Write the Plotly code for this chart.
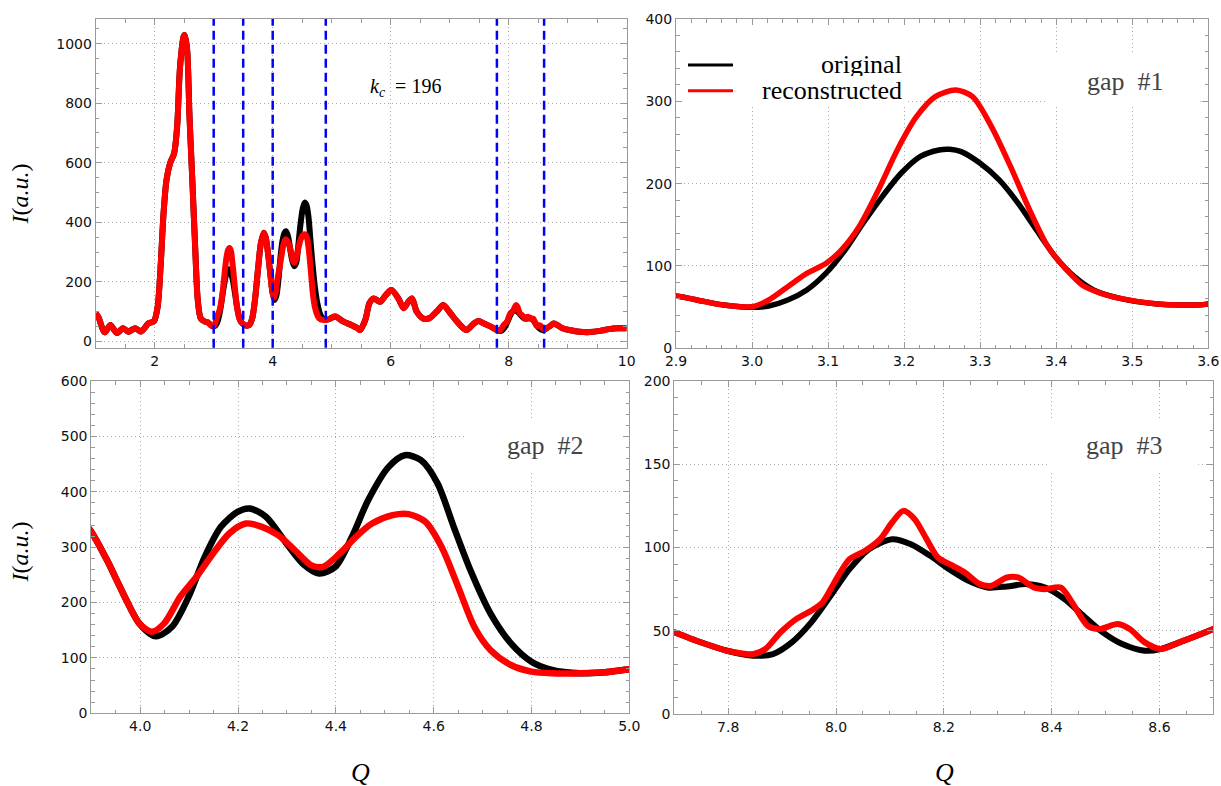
import plotly.graph_objects as go
from plotly.subplots import make_subplots

# ---------------------------------------------------------------------------
# Scattering intensity I(Q): points where original and reconstructed coincide
# ---------------------------------------------------------------------------
q_shared = [1.00, 1.05, 1.10, 1.15, 1.20, 1.25, 1.30, 1.36, 1.41, 1.46, 1.51,
            1.55, 1.61, 1.67, 1.72, 1.77, 1.83, 1.89, 1.95, 1.99, 2.05, 2.10,
            2.15, 2.20, 2.26, 2.33, 2.38, 2.43, 2.49, 2.51, 2.55, 2.59, 2.64,
            2.69, 2.73, 2.78, 2.85, 2.90, 2.938, 2.963,
            3.484, 3.533, 3.563, 3.60, 3.65, 3.70, 3.75, 3.80, 3.85, 3.88,
            3.90, 3.932, 3.965,
            4.90, 4.95, 5.00, 5.06, 5.20, 5.33, 5.44, 5.48, 5.57, 5.64, 5.71,
            5.82, 5.92, 6.01, 6.13, 6.22, 6.30, 6.36, 6.44, 6.55, 6.65, 6.78,
            6.89, 6.99, 7.10, 7.23, 7.29, 7.41, 7.49, 7.58, 7.70, 7.741,
            8.637, 8.70, 8.76, 8.82, 8.90, 9.05, 9.20, 9.38, 9.55, 9.70,
            9.85, 10.00]
i_shared = [94, 80, 50, 30, 42, 55, 42, 28, 35, 44, 38,
            32, 38, 44, 38, 33, 45, 60, 64, 68, 116, 251,
            430, 542, 598, 632, 721, 923, 1024, 1029, 979, 755, 531,
            296, 139, 77, 66, 63.6, 56.7, 52.6,
            60.7, 53.8, 52.6, 54, 75, 140, 240, 330, 365, 350,
            327.7, 276.6, 216.5,
            72.2, 74, 79.4, 83, 66, 55, 44, 38, 72, 128, 144,
            133, 156, 172, 144, 111, 133, 144, 100, 77, 77, 100,
            122, 100, 72, 44, 38, 60, 68, 60, 49, 44,
            43, 51, 60, 55, 45, 37, 32, 31, 35, 41,
            44, 44]

# gap #1 window
q_gap1_orig = [3.000, 3.022, 3.047, 3.072, 3.097, 3.122, 3.146, 3.171, 3.196,
               3.221, 3.246, 3.260, 3.275, 3.300, 3.325, 3.350, 3.374, 3.399,
               3.424, 3.449]
i_gap1_orig = [49.8, 51.4, 58.7, 70.9, 91, 119, 152, 184, 212.6,
               232.8, 240.9, 241.7, 238.9, 224.7, 204.5, 176, 143.7, 111,
               87, 70.9]
q_gap1_rec = [3.000, 3.022, 3.047, 3.072, 3.097, 3.117, 3.141, 3.166, 3.191,
              3.216, 3.241, 3.268, 3.290, 3.315, 3.340, 3.365, 3.389, 3.414,
              3.434, 3.459]
i_gap1_rec = [50.5, 58.7, 74.9, 91, 103, 119, 148, 192, 241,
              281, 305.7, 313.8, 305.7, 269, 220.6, 168, 123.5, 95,
              77, 66.8]

# gap #2 window
q_gap2_orig = [3.998, 4.032, 4.065, 4.099, 4.132, 4.165, 4.199, 4.224, 4.257,
               4.299, 4.332, 4.366, 4.399, 4.433, 4.466, 4.508, 4.541, 4.574,
               4.608, 4.641, 4.675, 4.716, 4.758, 4.800, 4.842]
i_gap2_orig = [162.4, 139, 156.3, 210.5, 282.6, 336.7, 363.8, 369.8, 354.8,
               306.7, 270.6, 252.6, 264.6, 318.7, 384.8, 445, 466, 457,
               415, 336.7, 258.6, 180.4, 126.3, 93.2, 78.2]
q_gap2_rec = [3.998, 4.024, 4.049, 4.082, 4.115, 4.149, 4.182, 4.216, 4.249,
              4.282, 4.316, 4.349, 4.374, 4.408, 4.441, 4.474, 4.516, 4.549,
              4.583, 4.616, 4.650, 4.683, 4.716, 4.758, 4.800, 4.842]
i_gap2_rec = [162.4, 147.3, 162.4, 210.5, 246.5, 288.6, 324.7, 342.7, 336.7,
              321.7, 294.6, 267.6, 264.6, 288.6, 318.7, 342.7, 357.8, 359.6,
              345.8, 300.7, 228.5, 156.3, 114.3, 87.2, 75.2, 72.2]

# gap #3 window
q_gap3_orig = [7.798, 7.847, 7.883, 7.918, 7.954, 7.990, 8.025, 8.061, 8.104,
               8.139, 8.175, 8.210, 8.246, 8.281, 8.317, 8.353, 8.388, 8.424,
               8.459, 8.495, 8.531, 8.573, 8.602]
i_gap3_orig = [38, 35, 36, 43, 55, 71, 87, 99, 105,
               102, 95, 87, 80, 76, 76.6, 78, 76, 69,
               59, 49, 42, 38, 39]
q_gap3_rec = [7.798, 7.847, 7.869, 7.897, 7.926, 7.954, 7.975, 7.997, 8.025,
              8.054, 8.082, 8.104, 8.125, 8.146, 8.168, 8.189, 8.217, 8.239,
              8.267, 8.288, 8.317, 8.338, 8.367, 8.388, 8.417, 8.438, 8.467,
              8.488, 8.523, 8.545, 8.573, 8.602]
i_gap3_rec = [38, 36, 39, 49, 57, 62, 67, 79, 93,
              98, 105, 115, 122, 117, 105, 94, 89, 85,
              78, 77, 82, 82, 76, 75, 76, 67, 53,
              51, 54, 51, 43, 39]

# boundaries of the removed windows
cut_q = [3.0, 3.5, 4.0, 4.9, 7.8, 8.6]
k_c = 196


def merge(parts):
    pts = sorted(p for qs, iv in parts for p in zip(qs, iv))
    return [p[0] for p in pts], [p[1] for p in pts]


q_orig, i_orig = merge([(q_shared, i_shared), (q_gap1_orig, i_gap1_orig),
                        (q_gap2_orig, i_gap2_orig), (q_gap3_orig, i_gap3_orig)])
q_rec, i_rec = merge([(q_shared, i_shared), (q_gap1_rec, i_gap1_rec),
                      (q_gap2_rec, i_gap2_rec), (q_gap3_rec, i_gap3_rec)])

W, H = 1221, 786
FRAME = "#9a9a9a"
SERIF = "Liberation Serif"
SANS = "DejaVu Sans"


def px(x):
    return x / W


def py(y):
    return 1 - y / H


fig = make_subplots(rows=2, cols=2)

# panel frames in pixels: (left, right, top, bottom)
panels = {
    (1, 1): (95.7, 626.7, 19.0, 347.7),
    (1, 2): (676.0, 1208.3, 19.0, 348.3),
    (2, 1): (91.3, 629.3, 381.0, 713.3),
    (2, 2): (674.3, 1213.3, 381.0, 714.0),
}

axes_cfg = {
    (1, 1): dict(xr=[1, 10], xt0=0, xd=2, xm=0.5, xf="d",
                 yr=[-21.5, 1083], yd=200, ym=50, lw=6),
    (1, 2): dict(xr=[2.9, 3.6], xt0=2.9, xd=0.1, xm=0.02, xf=".1f",
                 yr=[0, 400], yd=100, ym=20, lw=5.5),
    (2, 1): dict(xr=[3.9, 5.0], xt0=4.0, xd=0.2, xm=0.05, xf=".1f",
                 yr=[0, 600], yd=100, ym=20, lw=6.5),
    (2, 2): dict(xr=[7.7, 8.7], xt0=7.8, xd=0.2, xm=0.05, xf=".1f",
                 yr=[0, 200], yd=50, ym=10, lw=6),
}

common = dict(showline=True, linecolor=FRAME, linewidth=1, mirror="allticks",
              ticks="inside", ticklen=6, tickwidth=1, tickcolor=FRAME,
              showgrid=True, gridcolor="#a8a8a8", griddash="1px,3px",
              gridwidth=1, zeroline=False, automargin=False,
              tickfont=dict(family=SANS, size=14, color="#111111"))

for (r, c), cfg in axes_cfg.items():
    l, rr, t, b = panels[(r, c)]
    fig.update_xaxes(domain=[px(l), px(rr)], range=cfg["xr"], tick0=cfg["xt0"],
                     dtick=cfg["xd"], tickformat=cfg["xf"],
                     minor=dict(ticks="inside", ticklen=3.5, tickcolor=FRAME,
                                dtick=cfg["xm"], tick0=cfg["xt0"], showgrid=False),
                     row=r, col=c, **common)
    fig.update_yaxes(domain=[py(b), py(t)], range=cfg["yr"], tick0=0,
                     dtick=cfg["yd"],
                     minor=dict(ticks="inside", ticklen=3.5, tickcolor=FRAME,
                                dtick=cfg["ym"], tick0=0, showgrid=False),
                     row=r, col=c, **common)
    fig.add_trace(go.Scatter(x=q_orig, y=i_orig, mode="lines",
                             line=dict(color="black", width=cfg["lw"],
                                       shape="spline", smoothing=0.8),
                             showlegend=False, cliponaxis=True),
                  row=r, col=c)
    fig.add_trace(go.Scatter(x=q_rec, y=i_rec, mode="lines",
                             line=dict(color="#ff0000", width=cfg["lw"],
                                       shape="spline", smoothing=0.8),
                             showlegend=False, cliponaxis=True),
                  row=r, col=c)

# dashed markers of the gap boundaries on the overview panel
for qc in cut_q:
    fig.add_shape(type="line", xref="x", yref="y domain", x0=qc, x1=qc,
                  y0=0, y1=1, layer="above",
                  line=dict(color="#0000ff", width=2.5, dash="9px,5px"))

# white boxes behind legend and labels (hide the grid underneath)
boxes = [("x2 domain", "y2 domain", 0.013, 0.432, 0.733, 0.979),
         ("x2 domain", "y2 domain", 0.693, 0.985, 0.733, 0.891),
         ("x3 domain", "y3 domain", 0.698, 0.985, 0.732, 0.889),
         ("x4 domain", "y4 domain", 0.691, 0.972, 0.732, 0.889)]
for xr_, yr_, x0, x1, y0, y1 in boxes:
    fig.add_shape(type="rect", xref=xr_, yref=yr_, x0=x0, x1=x1, y0=y0, y1=y1,
                  fillcolor="white", line=dict(width=0), layer="above")

# legend drawn by hand (right-aligned entries)
for yy, col, label in [(65, "black", "original"), (90.7, "#ff0000", "reconstructed")]:
    fig.add_shape(type="line", xref="paper", yref="paper",
                  x0=px(688), x1=px(733), y0=py(yy), y1=py(yy),
                  line=dict(color=col, width=3), layer="above")
    fig.add_annotation(x=px(903), y=py(yy - 1), xref="paper", yref="paper",
                       text=label, showarrow=False, xanchor="right",
                       yanchor="middle", height=24, borderpad=0,
                       font=dict(family=SERIF, size=26, color="black"))

gap_font = dict(family=SERIF, size=26, color="#444444")
for xx, yy, label in [(1125, 82, "gap\u00a0\u00a0#1"), (545, 445, "gap\u00a0\u00a0#2"),
                      (1124.5, 445, "gap\u00a0\u00a0#3")]:
    fig.add_annotation(x=px(xx), y=py(yy), xref="paper", yref="paper",
                       text=label, showarrow=False, xanchor="center",
                       yanchor="middle", font=gap_font)

fig.add_annotation(x=px(405), y=py(87), xref="paper", yref="paper",
                   text=f"<i>k</i><sub><i>c</i></sub>\u00a0\u00a0=\u00a0{k_c}",
                   showarrow=False, xanchor="center", yanchor="middle",
                   font=dict(family=SERIF, size=20, color="black"))

for xx in (360, 944):
    fig.add_annotation(x=px(xx), y=py(772), xref="paper", yref="paper",
                       text="<i>Q</i>", showarrow=False, xanchor="center",
                       yanchor="middle",
                       font=dict(family=SERIF, size=26, color="black"))
for yy in (194, 552):
    fig.add_annotation(x=px(19.5), y=py(yy), xref="paper", yref="paper",
                       text="<i>I</i>(<i>a.u.</i>)", showarrow=False,
                       textangle=-90, xanchor="center", yanchor="middle",
                       font=dict(family=SERIF, size=24, color="black"))

fig.update_layout(width=W, height=H,
                  margin=dict(l=0, r=0, t=0, b=0, autoexpand=False),
                  paper_bgcolor="white", plot_bgcolor="white",
                  showlegend=False)

fig.write_html("out.html")
